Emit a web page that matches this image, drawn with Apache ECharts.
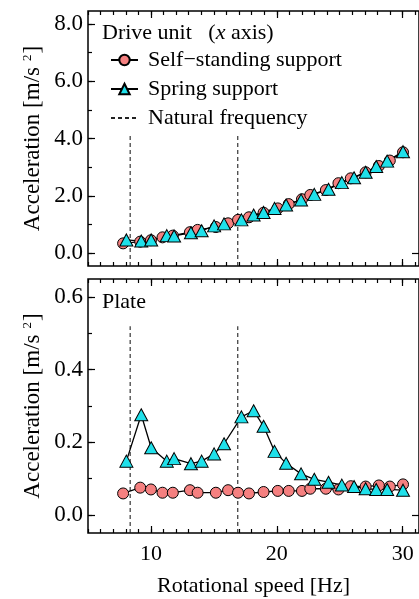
<!DOCTYPE html>
<html>
<head>
<meta charset="utf-8">
<script src="https://cdn.jsdelivr.net/npm/echarts@6/dist/echarts.min.js"></script>
<style>
  html, body { margin: 0; padding: 0; background: #fff; }
  #chart { width: 419px; height: 599px; }
</style>
</head>
<body>
<div id="chart"></div>
<script>
// rotational speed [Hz] for each measurement
const speedSelf = [7.79, 9.15, 10.0, 10.92, 11.74, 13.1, 13.71, 15.16, 16.13, 16.92, 17.79, 18.95, 20.08, 20.95, 22.0, 22.66, 23.9, 24.9, 25.88, 27.06, 28.11, 28.98, 30.03]
const speedSpring = [8.05, 9.23, 10.02, 11.26, 11.84, 13.18, 14.03, 15.02, 15.81, 17.19, 18.16, 18.95, 19.82, 20.74, 21.93, 22.98, 24.11, 25.17, 26.14, 27.06, 27.9, 28.77, 30.03]

// drive unit (x axis) acceleration [m/s2]
const driveSelf = [0.34, 0.40, 0.45, 0.55, 0.61, 0.73, 0.81, 0.91, 1.04, 1.16, 1.25, 1.41, 1.56, 1.71, 1.88, 2.03, 2.20, 2.44, 2.61, 2.82, 3.04, 3.23, 3.52]
const driveSpring = [0.46, 0.42, 0.46, 0.61, 0.60, 0.71, 0.78, 0.95, 1.02, 1.16, 1.33, 1.42, 1.56, 1.68, 1.85, 2.05, 2.23, 2.46, 2.63, 2.82, 3.02, 3.21, 3.54]

// plate acceleration [m/s2]
const plateSelf = [0.059, 0.075, 0.070, 0.061, 0.061, 0.068, 0.061, 0.061, 0.068, 0.061, 0.059, 0.063, 0.066, 0.066, 0.066, 0.072, 0.072, 0.070, 0.079, 0.078, 0.081, 0.078, 0.084]
const plateSpring = [0.148, 0.276, 0.185, 0.148, 0.155, 0.141, 0.148, 0.168, 0.196, 0.270, 0.287, 0.244, 0.175, 0.142, 0.113, 0.098, 0.090, 0.082, 0.078, 0.072, 0.070, 0.070, 0.068]

// natural frequencies [Hz] and where their dashed markers stop
const naturalFreq = [8.35, 16.9]
const naturalTopDrive = 4.18
const naturalTopPlate = 0.52

// tick values
const xMajorTicks = [10, 20, 30]
const driveMajorTicks = [0, 2, 4, 6, 8]
const driveMinorTicks = [0, 1, 2, 3, 4, 5, 6, 7, 8]
const plateMajorTicks = [0, 0.2, 0.4, 0.6]
const plateMinorTicks = [0, 0.1, 0.2, 0.3, 0.4, 0.5, 0.6]

const X_MIN = 5, X_MAX = 31.3
const DRIVE_MIN = -0.45, DRIVE_MAX = 8.45
const PLATE_MIN = -0.05, PLATE_MAX = 0.65

const FONT = 'Liberation Serif'
const SELF_NAME = 'Self\u2212standing support'
const SPRING_NAME = 'Spring support'
const NAT_NAME = 'Natural frequency'

const tickLine = { color: '#000', width: 1.2 }
const yName = '{a|Acceleration [m/s}{s|2}{a|]}'
const yNameStyle = {
  color: '#000',
  fontFamily: FONT,
  fontSize: 23,
  rich: {
    a: { fontFamily: FONT, fontSize: 23, color: '#000', lineHeight: 23, verticalAlign: 'bottom' },
    s: { fontFamily: FONT, fontSize: 13, color: '#000', lineHeight: 13, verticalAlign: 'top', padding: [0, 1, 19, 6] },
  },
}

function zip(xs, ys) {
  return xs.map((x, i) => [x, ys[i]])
}

function xAxesFor(grid, withLabels) {
  const base = {
    gridIndex: grid,
    type: 'value',
    min: X_MIN,
    max: X_MAX,
    splitLine: { show: false },
    axisLine: { show: false, onZero: false },
  }
  const major = { inside: true, length: 7, customValues: xMajorTicks, lineStyle: tickLine }
  const minor = { inside: true, length: 4, lineStyle: tickLine }
  return [
    {
      ...base,
      position: 'bottom',
      axisTick: major,
      axisLabel: withLabels
        ? { customValues: xMajorTicks, color: '#000', fontFamily: FONT, fontSize: 22, margin: 10 }
        : { show: false, customValues: xMajorTicks },
      name: withLabels ? 'Rotational speed [Hz]' : '',
      nameLocation: 'middle',
      nameGap: 42,
      nameMoveOverlap: false,
      nameTextStyle: { color: '#000', fontFamily: FONT, fontSize: 22 },
    },
    { ...base, position: 'bottom', interval: 1, axisTick: minor, axisLabel: { show: false } },
    { ...base, position: 'top', axisTick: major, axisLabel: { show: false, customValues: xMajorTicks } },
    { ...base, position: 'top', interval: 1, axisTick: minor, axisLabel: { show: false } },
  ]
}

function yAxesFor(grid, min, max, majors, minors, nameGap) {
  const base = {
    gridIndex: grid,
    type: 'value',
    min,
    max,
    splitLine: { show: false },
    axisLine: { show: false, onZero: false },
  }
  return [
    {
      ...base,
      position: 'left',
      axisTick: { inside: true, length: 7, customValues: majors, lineStyle: tickLine },
      axisLabel: {
        customValues: majors,
        color: '#000',
        fontFamily: FONT,
        fontSize: 23,
        margin: 5,
        formatter: (v) => Number(v).toFixed(1),
      },
      name: yName,
      nameLocation: 'middle',
      nameGap,
      nameMoveOverlap: false,
      nameTextStyle: yNameStyle,
    },
    {
      ...base,
      position: 'left',
      axisTick: { inside: true, length: 4, customValues: minors, lineStyle: tickLine },
      axisLabel: { show: false, customValues: minors },
    },
    {
      ...base,
      position: 'right',
      axisTick: { inside: true, length: 7, customValues: [0], lineStyle: tickLine },
      axisLabel: { show: false, customValues: [0] },
    },
  ]
}

function markerSeries(name, xi, yi, data, symbol) {
  const isCircle = symbol === 'circle'
  return {
    name,
    type: 'line',
    xAxisIndex: xi,
    yAxisIndex: yi,
    data,
    symbol,
    symbolSize: isCircle ? 11 : [13, 12],
    showAllSymbol: true,
    lineStyle: { color: '#000', width: 1.3 },
    itemStyle: { color: isCircle ? '#f58080' : '#1fe0ea', borderColor: '#000', borderWidth: 1 },
    emphasis: { disabled: true },
  }
}

function naturalSeries(xi, yi, low, top) {
  return naturalFreq.map((f) => ({
    name: NAT_NAME,
    type: 'line',
    xAxisIndex: xi,
    yAxisIndex: yi,
    data: [[f, low], [f, top]],
    symbol: 'none',
    lineStyle: { color: '#222', width: 1.1, type: [4, 3] },
    itemStyle: { color: '#222' },
    emphasis: { disabled: true },
  }))
}

const chart = echarts.init(document.getElementById('chart'), null, { renderer: 'canvas' })

chart.setOption({
  animation: false,
  backgroundColor: '#fff',
  grid: [
    { left: 88, right: -1.5, top: 11, height: 255, show: true, borderColor: '#000', borderWidth: 1.5, containLabel: false },
    { left: 88, right: -1.5, top: 279, height: 254, show: true, borderColor: '#000', borderWidth: 1.5, containLabel: false },
  ],
  title: [
    {
      text: '{n|Drive unit   (}{i|x}{n| axis)}',
      left: 96,
      top: 20,
      padding: [2, 6],
      textStyle: {
        fontWeight: 'normal',
        rich: {
          n: { fontFamily: FONT, fontSize: 22, color: '#000', fontWeight: 'normal' },
          i: { fontFamily: FONT, fontSize: 22, color: '#000', fontWeight: 'normal', fontStyle: 'italic' },
        },
      },
    },
    {
      text: 'Plate',
      left: 96,
      top: 289,
      padding: [2, 6],
      textStyle: { fontFamily: FONT, fontSize: 22, color: '#000', fontWeight: 'normal' },
    },
  ],
  legend: {
    orient: 'vertical',
    left: 110,
    top: 49,
    padding: 0,
    itemWidth: 27,
    itemHeight: 13,
    itemGap: 7,
    selectedMode: false,
    data: [SELF_NAME, SPRING_NAME, { name: NAT_NAME, itemStyle: { opacity: 0 } }],
    textStyle: { fontFamily: FONT, fontSize: 22, color: '#000', lineHeight: 22, padding: [0, 0, 0, 5] },
  },
  xAxis: [...xAxesFor(0, false), ...xAxesFor(1, true)],
  yAxis: [
    ...yAxesFor(0, DRIVE_MIN, DRIVE_MAX, driveMajorTicks, driveMinorTicks, 44),
    ...yAxesFor(1, PLATE_MIN, PLATE_MAX, plateMajorTicks, plateMinorTicks, 44),
  ],
  series: [
    ...naturalSeries(0, 0, DRIVE_MIN, naturalTopDrive),
    markerSeries(SELF_NAME, 0, 0, zip(speedSelf, driveSelf), 'circle'),
    markerSeries(SPRING_NAME, 0, 0, zip(speedSpring, driveSpring), 'triangle'),
    ...naturalSeries(4, 3, PLATE_MIN, naturalTopPlate),
    markerSeries(SELF_NAME, 4, 3, zip(speedSelf, plateSelf), 'circle'),
    markerSeries(SPRING_NAME, 4, 3, zip(speedSpring, plateSpring), 'triangle'),
  ],
})
</script>
</body>
</html>
